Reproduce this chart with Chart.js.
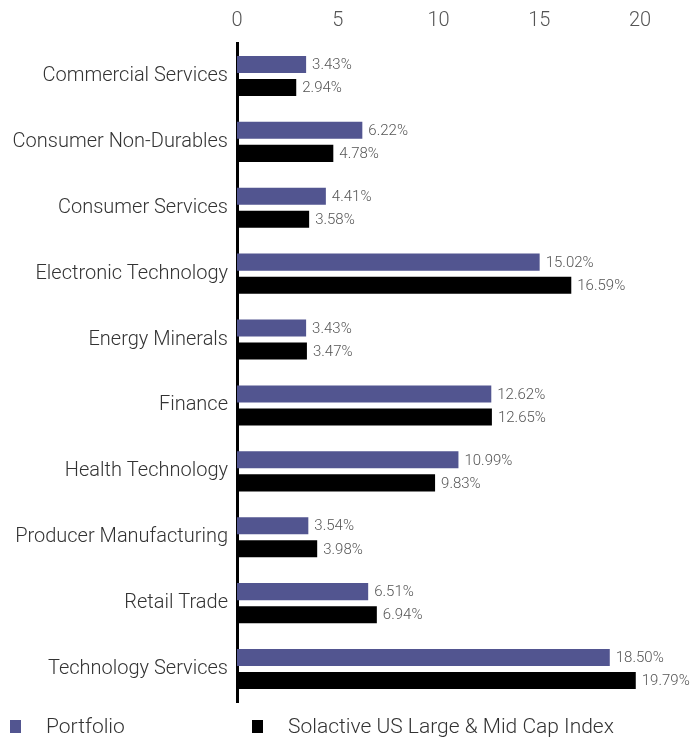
<!DOCTYPE html>
<html>
<head>
<meta charset="utf-8">
<script src="https://cdn.jsdelivr.net/npm/chart.js@4"></script>
<style>
  html, body { margin: 0; padding: 0; background: #fff; }
  #wrap { position: relative; width: 694px; height: 737px; }
  #legend { position: absolute; left: 0; top: 714px; font-family: Roboto, sans-serif; font-weight: 300; font-size: 21px; color: #333; }
  .item { position: absolute; white-space: nowrap; display: flex; align-items: center; }
  .box { width: 11px; height: 13px; margin-right: 25px; }
</style>
</head>
<body>
<div id="wrap">
  <canvas id="chart" width="694" height="737"></canvas>
  <div id="legend"></div>
</div>
<script>
// Kategorien und Werte (in %)
const sectors = ['Commercial Services', 'Consumer Non-Durables', 'Consumer Services', 'Electronic Technology',
  'Energy Minerals', 'Finance', 'Health Technology', 'Producer Manufacturing', 'Retail Trade', 'Technology Services'];
const portfolio = [3.43, 6.22, 4.41, 15.02, 3.43, 12.62, 10.99, 3.54, 6.51, 18.50];
const indexValues = [2.94, 4.78, 3.58, 16.59, 3.47, 12.65, 9.83, 3.98, 6.94, 19.79];
const xTicks = [0, 5, 10, 15, 20];
const seriesNames = ['Portfolio', 'Solactive US Large & Mid Cap Index'];
const seriesColors = ['#525590', '#000000'];

// Werte-Beschriftung rechts neben den Balken
const valueLabels = {
  id: 'valueLabels',
  afterDatasetsDraw(chart) {
    const ctx = chart.ctx;
    ctx.save();
    ctx.font = '300 15px Roboto, sans-serif';
    ctx.fillStyle = '#555';
    ctx.textBaseline = 'middle';
    chart.data.datasets.forEach((ds, i) => {
      chart.getDatasetMeta(i).data.forEach((bar, j) => {
        ctx.fillText(ds.data[j].toFixed(2) + '%', bar.x + 6, bar.y + 1);
      });
    });
    ctx.restore();
  }
};

new Chart(document.getElementById('chart'), {
  type: 'bar',
  data: {
    labels: sectors,
    datasets: [
      { label: seriesNames[0], data: portfolio, backgroundColor: seriesColors[0] },
      { label: seriesNames[1], data: indexValues, backgroundColor: seriesColors[1] }
    ]
  },
  options: {
    indexAxis: 'y',
    responsive: false,
    animation: false,
    categoryPercentage: 0.7,
    barPercentage: 0.74,
    layout: { padding: { left: 0, right: 54, top: 0, bottom: 35 } },
    plugins: { legend: { display: false }, tooltip: { enabled: false } },
    scales: {
      x: {
        position: 'top',
        min: 0,
        max: 20,
        afterBuildTicks: (s) => { s.ticks = xTicks.map(v => ({ value: v })); },
        afterFit: (s) => { s.height = 43; },
        grid: { display: false, drawTicks: false },
        border: { display: false },
        ticks: { color: '#555', font: { family: 'Roboto', weight: '300', size: 20 }, padding: 10 }
      },
      y: {
        afterFit: (s) => { s.width = 237; },
        grid: { display: false, drawTicks: false },
        border: { display: true, color: '#000', width: 3 },
        ticks: { color: '#333', font: { family: 'Roboto', weight: '300', size: 20 }, padding: 9 }
      }
    }
  },
  plugins: [valueLabels]
});

// Legende unten
const legend = document.getElementById('legend');
const legendX = [10, 252];
seriesNames.forEach((name, i) => {
  const item = document.createElement('div');
  item.className = 'item';
  item.style.left = legendX[i] + 'px';
  item.innerHTML = '<span class="box" style="background:' + seriesColors[i] + '"></span><span>' + name + '</span>';
  legend.appendChild(item);
});
</script>
</body>
</html>
